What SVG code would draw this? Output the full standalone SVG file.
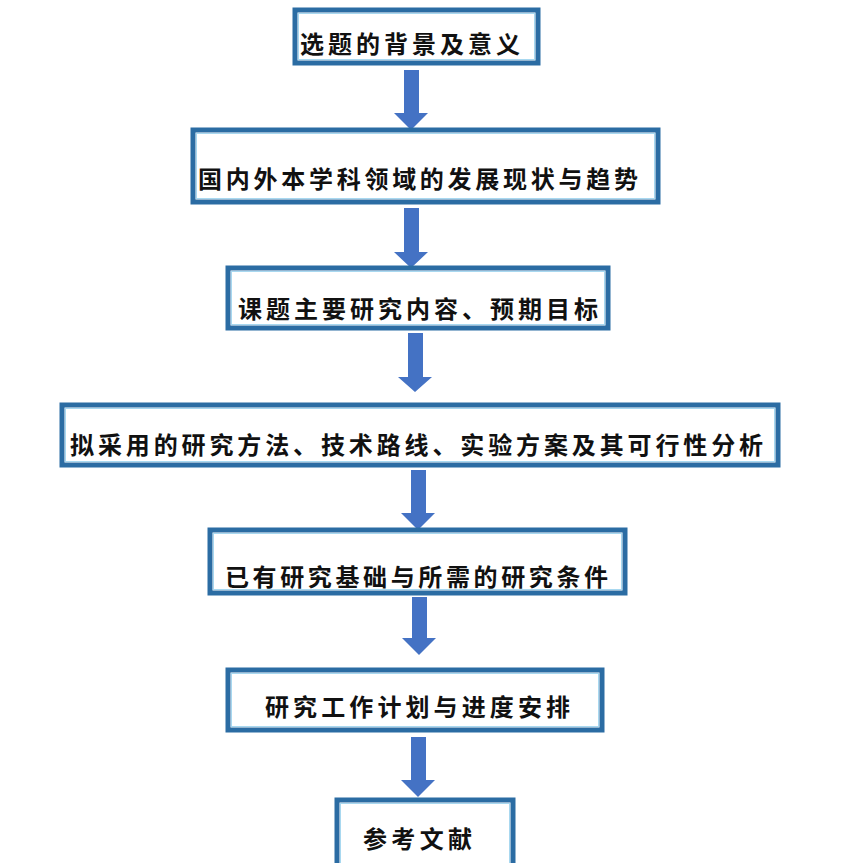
<svg xmlns="http://www.w3.org/2000/svg" width="844" height="863" viewBox="0 0 844 863">
<style>
.box{fill:#fff;stroke:#2b6ca3;stroke-width:5}
.inner{fill:none;stroke:#a8d8f0;stroke-width:1}
.t{font-family:"Noto Sans CJK SC","Noto Sans CJK TC",sans-serif;font-weight:700;font-size:24px;fill:#111;dominant-baseline:central}
.arr{fill:#4472c4}
</style>
<rect width="844" height="863" fill="#fff"/>
<g id="connectors">
<path class="arr" d="M404,70 H419 V113 H428 L411,130 L394,113 H404 Z"/>
<path class="arr" d="M404,208 H419 V252 H428 L411,268 L394,252 H404 Z"/>
<path class="arr" d="M408,333 H423 V377 H432 L415,392 L398,377 H408 Z"/>
<path class="arr" d="M411,470 H426 V513 H435 L418,530 L401,513 H411 Z"/>
<path class="arr" d="M412,597 H427 V638 H436 L419,655 L402,638 H412 Z"/>
<path class="arr" d="M411,737 H426 V780 H435 L418,797 L401,780 H411 Z"/>
</g>
<g id="n1">
<rect class="box" x="295" y="10" width="243" height="53"/>
<rect class="inner" x="298.5" y="13.5" width="236" height="46"/>
<text class="t" x="300" y="42" textLength="220" lengthAdjust="spacing">选题的背景及意义</text>
</g>
<g id="n2">
<rect class="box" x="193" y="130" width="465" height="72"/>
<rect class="inner" x="196.5" y="133.5" width="458" height="65"/>
<text class="t" x="198" y="177" textLength="440" lengthAdjust="spacing">国内外本学科领域的发展现状与趋势</text>
</g>
<g id="n3">
<rect class="box" x="228" y="268" width="380" height="60"/>
<rect class="inner" x="231.5" y="271.5" width="373" height="53"/>
<text class="t" x="238" y="307" textLength="360" lengthAdjust="spacing">课题主要研究内容、预期目标</text>
</g>
<g id="n4">
<rect class="box" x="62" y="405" width="716" height="60"/>
<rect class="inner" x="65.5" y="408.5" width="709" height="53"/>
<text class="t" x="70" y="443" textLength="693" lengthAdjust="spacing">拟采用的研究方法、技术路线、实验方案及其可行性分析</text>
</g>
<g id="n5">
<rect class="box" x="210" y="530" width="415" height="63"/>
<rect class="inner" x="213.5" y="533.5" width="408" height="56"/>
<text class="t" x="225" y="575" textLength="383" lengthAdjust="spacing">已有研究基础与所需的研究条件</text>
</g>
<g id="n6">
<rect class="box" x="228" y="670" width="374" height="60"/>
<rect class="inner" x="231.5" y="673.5" width="367" height="53"/>
<text class="t" x="265" y="705" textLength="305" lengthAdjust="spacing">研究工作计划与进度安排</text>
</g>
<g id="n7">
<rect class="box" x="337" y="800" width="176" height="75"/>
<rect class="inner" x="340.5" y="803.5" width="169" height="68"/>
<text class="t" x="363" y="837" textLength="109" lengthAdjust="spacing">参考文献</text>
</g>
</svg>
